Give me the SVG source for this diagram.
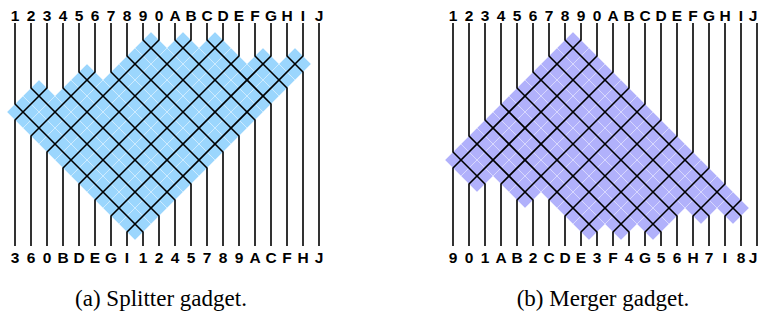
<svg xmlns="http://www.w3.org/2000/svg" width="759" height="320" viewBox="0 0 759 320">
<style>
.bg{fill:#fff}
.w{fill:none;stroke:#000;stroke-width:1.6;stroke-linejoin:miter}
.lb{font-family:"Liberation Sans",Arial,Helvetica,sans-serif;font-weight:bold;font-size:15.5px;text-anchor:middle;fill:#000}
.cap{font-family:"Liberation Serif","Times New Roman",serif;font-size:23px;text-anchor:middle;fill:#000}
.ta use{fill:#9bd6fd;stroke:#fff;stroke-opacity:.4;stroke-width:.7}
.tb use{fill:#b1b1fb;stroke:#fff;stroke-opacity:.4;stroke-width:.7}
</style>
<defs>
<path id="t" d="M0,-16 L16,0 L0,16 L-16,0 Z"/>
</defs>
<rect class="bg" x="0" y="0" width="759" height="320"/>

<g id="splitter">
<g id="splitter-tiles" class="ta">
<use href="#t" x="23" y="112"/><use href="#t" x="39" y="128"/><use href="#t" x="55" y="144"/><use href="#t" x="71" y="160"/><use href="#t" x="87" y="176"/><use href="#t" x="103" y="192"/><use href="#t" x="119" y="208"/><use href="#t" x="135" y="224"/>
<use href="#t" x="39" y="96"/><use href="#t" x="55" y="112"/><use href="#t" x="71" y="128"/><use href="#t" x="87" y="144"/><use href="#t" x="103" y="160"/><use href="#t" x="119" y="176"/><use href="#t" x="135" y="192"/><use href="#t" x="151" y="208"/>
<use href="#t" x="71" y="96"/><use href="#t" x="87" y="112"/><use href="#t" x="103" y="128"/><use href="#t" x="119" y="144"/><use href="#t" x="135" y="160"/><use href="#t" x="151" y="176"/><use href="#t" x="167" y="192"/>
<use href="#t" x="87" y="80"/><use href="#t" x="103" y="96"/><use href="#t" x="119" y="112"/><use href="#t" x="135" y="128"/><use href="#t" x="151" y="144"/><use href="#t" x="167" y="160"/><use href="#t" x="183" y="176"/>
<use href="#t" x="119" y="80"/><use href="#t" x="135" y="96"/><use href="#t" x="151" y="112"/><use href="#t" x="167" y="128"/><use href="#t" x="183" y="144"/><use href="#t" x="199" y="160"/>
<use href="#t" x="135" y="64"/><use href="#t" x="151" y="80"/><use href="#t" x="167" y="96"/><use href="#t" x="183" y="112"/><use href="#t" x="199" y="128"/><use href="#t" x="215" y="144"/>
<use href="#t" x="151" y="48"/><use href="#t" x="167" y="64"/><use href="#t" x="183" y="80"/><use href="#t" x="199" y="96"/><use href="#t" x="215" y="112"/><use href="#t" x="231" y="128"/>
<use href="#t" x="183" y="48"/><use href="#t" x="199" y="64"/><use href="#t" x="215" y="80"/><use href="#t" x="231" y="96"/><use href="#t" x="247" y="112"/>
<use href="#t" x="215" y="48"/><use href="#t" x="231" y="64"/><use href="#t" x="247" y="80"/><use href="#t" x="263" y="96"/>
<use href="#t" x="263" y="64"/><use href="#t" x="279" y="80"/>
<use href="#t" x="295" y="64"/>
</g>
<g id="splitter-wires">
<g id="sa-1"><path class="w" d="M15,23 V104 L143,232 V246"/><text class="lb" x="15" y="21">1</text><text class="lb" x="143" y="263">1</text></g>
<g id="sa-2"><path class="w" d="M31,23 V88 L159,216 V246"/><text class="lb" x="31" y="21">2</text><text class="lb" x="159" y="263">2</text></g>
<g id="sa-3"><path class="w" d="M47,23 V88 L15,120 V246"/><text class="lb" x="47" y="21">3</text><text class="lb" x="15" y="263">3</text></g>
<g id="sa-4"><path class="w" d="M63,23 V88 L175,200 V246"/><text class="lb" x="63" y="21">4</text><text class="lb" x="175" y="263">4</text></g>
<g id="sa-5"><path class="w" d="M79,23 V72 L191,184 V246"/><text class="lb" x="79" y="21">5</text><text class="lb" x="191" y="263">5</text></g>
<g id="sa-6"><path class="w" d="M95,23 V72 L31,136 V246"/><text class="lb" x="95" y="21">6</text><text class="lb" x="31" y="263">6</text></g>
<g id="sa-7"><path class="w" d="M111,23 V72 L207,168 V246"/><text class="lb" x="111" y="21">7</text><text class="lb" x="207" y="263">7</text></g>
<g id="sa-8"><path class="w" d="M127,23 V56 L223,152 V246"/><text class="lb" x="127" y="21">8</text><text class="lb" x="223" y="263">8</text></g>
<g id="sa-9"><path class="w" d="M143,23 V40 L239,136 V246"/><text class="lb" x="143" y="21">9</text><text class="lb" x="239" y="263">9</text></g>
<g id="sa-0"><path class="w" d="M159,23 V40 L47,152 V246"/><text class="lb" x="159" y="21">0</text><text class="lb" x="47" y="263">0</text></g>
<g id="sa-A"><path class="w" d="M175,23 V40 L255,120 V246"/><text class="lb" x="175" y="21">A</text><text class="lb" x="255" y="263">A</text></g>
<g id="sa-B"><path class="w" d="M191,23 V40 L63,168 V246"/><text class="lb" x="191" y="21">B</text><text class="lb" x="63" y="263">B</text></g>
<g id="sa-C"><path class="w" d="M207,23 V40 L271,104 V246"/><text class="lb" x="207" y="21">C</text><text class="lb" x="271" y="263">C</text></g>
<g id="sa-D"><path class="w" d="M223,23 V40 L79,184 V246"/><text class="lb" x="223" y="21">D</text><text class="lb" x="79" y="263">D</text></g>
<g id="sa-E"><path class="w" d="M239,23 V56 L95,200 V246"/><text class="lb" x="239" y="21">E</text><text class="lb" x="95" y="263">E</text></g>
<g id="sa-F"><path class="w" d="M255,23 V56 L287,88 V246"/><text class="lb" x="255" y="21">F</text><text class="lb" x="287" y="263">F</text></g>
<g id="sa-G"><path class="w" d="M271,23 V56 L111,216 V246"/><text class="lb" x="271" y="21">G</text><text class="lb" x="111" y="263">G</text></g>
<g id="sa-H"><path class="w" d="M287,23 V56 L303,72 V246"/><text class="lb" x="287" y="21">H</text><text class="lb" x="303" y="263">H</text></g>
<g id="sa-I"><path class="w" d="M303,23 V56 L127,232 V246"/><text class="lb" x="303" y="21">I</text><text class="lb" x="127" y="263">I</text></g>
<g id="sa-J"><path class="w" d="M319,23 V246"/><text class="lb" x="319" y="21">J</text><text class="lb" x="319" y="263">J</text></g>
</g>
<text id="caption-a" class="cap" x="161" y="306">(a) Splitter gadget.</text>
</g>

<g id="merger">
<g id="merger-tiles" class="tb">
<use href="#t" x="461" y="160"/><use href="#t" x="477" y="176"/>
<use href="#t" x="477" y="144"/><use href="#t" x="493" y="160"/><use href="#t" x="509" y="176"/><use href="#t" x="525" y="192"/>
<use href="#t" x="493" y="128"/><use href="#t" x="509" y="144"/><use href="#t" x="525" y="160"/><use href="#t" x="541" y="176"/><use href="#t" x="557" y="192"/><use href="#t" x="573" y="208"/><use href="#t" x="589" y="224"/>
<use href="#t" x="509" y="112"/><use href="#t" x="525" y="128"/><use href="#t" x="541" y="144"/><use href="#t" x="557" y="160"/><use href="#t" x="573" y="176"/><use href="#t" x="589" y="192"/><use href="#t" x="605" y="208"/><use href="#t" x="621" y="224"/>
<use href="#t" x="525" y="96"/><use href="#t" x="541" y="112"/><use href="#t" x="557" y="128"/><use href="#t" x="573" y="144"/><use href="#t" x="589" y="160"/><use href="#t" x="605" y="176"/><use href="#t" x="621" y="192"/><use href="#t" x="637" y="208"/><use href="#t" x="653" y="224"/>
<use href="#t" x="541" y="80"/><use href="#t" x="557" y="96"/><use href="#t" x="573" y="112"/><use href="#t" x="589" y="128"/><use href="#t" x="605" y="144"/><use href="#t" x="621" y="160"/><use href="#t" x="637" y="176"/><use href="#t" x="653" y="192"/><use href="#t" x="669" y="208"/>
<use href="#t" x="557" y="64"/><use href="#t" x="573" y="80"/><use href="#t" x="589" y="96"/><use href="#t" x="605" y="112"/><use href="#t" x="621" y="128"/><use href="#t" x="637" y="144"/><use href="#t" x="653" y="160"/><use href="#t" x="669" y="176"/><use href="#t" x="685" y="192"/><use href="#t" x="701" y="208"/>
<use href="#t" x="573" y="48"/><use href="#t" x="589" y="64"/><use href="#t" x="605" y="80"/><use href="#t" x="621" y="96"/><use href="#t" x="637" y="112"/><use href="#t" x="653" y="128"/><use href="#t" x="669" y="144"/><use href="#t" x="685" y="160"/><use href="#t" x="701" y="176"/><use href="#t" x="717" y="192"/><use href="#t" x="733" y="208"/>
</g>
<g id="merger-wires">
<g id="mb-1"><path class="w" d="M453,23 V152 L485,184 V246"/><text class="lb" x="453" y="21">1</text><text class="lb" x="485" y="263">1</text></g>
<g id="mb-2"><path class="w" d="M469,23 V136 L533,200 V246"/><text class="lb" x="469" y="21">2</text><text class="lb" x="533" y="263">2</text></g>
<g id="mb-3"><path class="w" d="M485,23 V120 L597,232 V246"/><text class="lb" x="485" y="21">3</text><text class="lb" x="597" y="263">3</text></g>
<g id="mb-4"><path class="w" d="M501,23 V104 L629,232 V246"/><text class="lb" x="501" y="21">4</text><text class="lb" x="629" y="263">4</text></g>
<g id="mb-5"><path class="w" d="M517,23 V88 L661,232 V246"/><text class="lb" x="517" y="21">5</text><text class="lb" x="661" y="263">5</text></g>
<g id="mb-6"><path class="w" d="M533,23 V72 L677,216 V246"/><text class="lb" x="533" y="21">6</text><text class="lb" x="677" y="263">6</text></g>
<g id="mb-7"><path class="w" d="M549,23 V56 L709,216 V246"/><text class="lb" x="549" y="21">7</text><text class="lb" x="709" y="263">7</text></g>
<g id="mb-8"><path class="w" d="M565,23 V40 L741,216 V246"/><text class="lb" x="565" y="21">8</text><text class="lb" x="741" y="263">8</text></g>
<g id="mb-9"><path class="w" d="M581,23 V40 L453,168 V246"/><text class="lb" x="581" y="21">9</text><text class="lb" x="453" y="263">9</text></g>
<g id="mb-0"><path class="w" d="M597,23 V56 L469,184 V246"/><text class="lb" x="597" y="21">0</text><text class="lb" x="469" y="263">0</text></g>
<g id="mb-A"><path class="w" d="M613,23 V72 L501,184 V246"/><text class="lb" x="613" y="21">A</text><text class="lb" x="501" y="263">A</text></g>
<g id="mb-B"><path class="w" d="M629,23 V88 L517,200 V246"/><text class="lb" x="629" y="21">B</text><text class="lb" x="517" y="263">B</text></g>
<g id="mb-C"><path class="w" d="M645,23 V104 L549,200 V246"/><text class="lb" x="645" y="21">C</text><text class="lb" x="549" y="263">C</text></g>
<g id="mb-D"><path class="w" d="M661,23 V120 L565,216 V246"/><text class="lb" x="661" y="21">D</text><text class="lb" x="565" y="263">D</text></g>
<g id="mb-E"><path class="w" d="M677,23 V136 L581,232 V246"/><text class="lb" x="677" y="21">E</text><text class="lb" x="581" y="263">E</text></g>
<g id="mb-F"><path class="w" d="M693,23 V152 L613,232 V246"/><text class="lb" x="693" y="21">F</text><text class="lb" x="613" y="263">F</text></g>
<g id="mb-G"><path class="w" d="M709,23 V168 L645,232 V246"/><text class="lb" x="709" y="21">G</text><text class="lb" x="645" y="263">G</text></g>
<g id="mb-H"><path class="w" d="M725,23 V184 L693,216 V246"/><text class="lb" x="725" y="21">H</text><text class="lb" x="693" y="263">H</text></g>
<g id="mb-I"><path class="w" d="M741,23 V200 L725,216 V246"/><text class="lb" x="741" y="21">I</text><text class="lb" x="725" y="263">I</text></g>
<g id="mb-J"><path class="w" d="M757,23 V246"/><text class="lb" x="753" y="21">J</text><text class="lb" x="753" y="263">J</text></g>
</g>
<text id="caption-b" class="cap" x="603" y="306">(b) Merger gadget.</text>
</g>
</svg>
